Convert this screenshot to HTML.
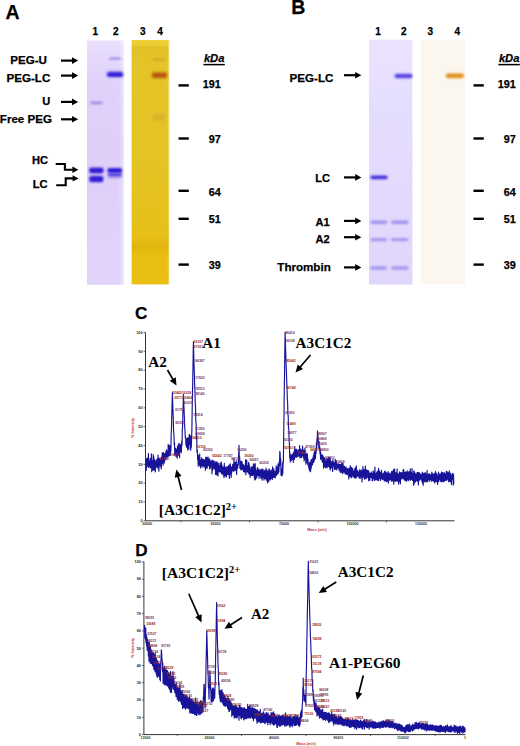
<!DOCTYPE html>
<html><head><meta charset="utf-8"><style>
html,body{margin:0;padding:0;background:#fff;width:520px;height:746px;overflow:hidden}
svg{display:block}
</style></head><body>
<svg width="520" height="746" viewBox="0 0 520 746">
<text x="5.5" y="19.3" style="font-family:'Liberation Sans',sans-serif;font-weight:bold;font-size:19.5px" fill="#000" text-anchor="start" stroke="#000" stroke-width="0.25">A</text>
<text x="95.2" y="34.6" style="font-family:'Liberation Sans',sans-serif;font-weight:bold;font-size:10px" fill="#000" text-anchor="middle" stroke="#000" stroke-width="0.25">1</text>
<text x="115.7" y="34.6" style="font-family:'Liberation Sans',sans-serif;font-weight:bold;font-size:10px" fill="#000" text-anchor="middle" stroke="#000" stroke-width="0.25">2</text>
<text x="142.8" y="34.6" style="font-family:'Liberation Sans',sans-serif;font-weight:bold;font-size:10px" fill="#000" text-anchor="middle" stroke="#000" stroke-width="0.25">3</text>
<text x="160" y="34.6" style="font-family:'Liberation Sans',sans-serif;font-weight:bold;font-size:10px" fill="#000" text-anchor="middle" stroke="#000" stroke-width="0.25">4</text>
<defs>
<linearGradient id="gA1" x1="0" y1="0" x2="0" y2="1">
 <stop offset="0" stop-color="#ebe0fc"/><stop offset="0.15" stop-color="#e0d2fb"/>
 <stop offset="0.45" stop-color="#dfcef8"/><stop offset="1" stop-color="#e1d4fb"/></linearGradient>
<linearGradient id="gA1h" x1="0" y1="0" x2="1" y2="0">
 <stop offset="0" stop-color="#fff" stop-opacity="0"/><stop offset="0.85" stop-color="#fff" stop-opacity="0"/>
 <stop offset="0.95" stop-color="#fff" stop-opacity="0.25"/><stop offset="1" stop-color="#fff" stop-opacity="0.4"/></linearGradient>
<linearGradient id="gA2" x1="0" y1="0" x2="0" y2="1">
 <stop offset="0" stop-color="#f0d038"/><stop offset="0.02" stop-color="#eccc34"/><stop offset="0.03" stop-color="#e2c026"/><stop offset="0.1" stop-color="#e4c428"/>
 <stop offset="0.5" stop-color="#e4c324"/><stop offset="0.8" stop-color="#e6c018"/><stop offset="0.845" stop-color="#e0b60e"/><stop offset="0.885" stop-color="#e8bf10"/><stop offset="1" stop-color="#e8bf12"/></linearGradient>
<linearGradient id="gA2h" x1="0" y1="0" x2="1" y2="0">
 <stop offset="0" stop-color="#fff" stop-opacity="0"/><stop offset="0.95" stop-color="#fff" stop-opacity="0"/>
 <stop offset="1" stop-color="#fff8c0" stop-opacity="0.5"/></linearGradient>
<linearGradient id="gB1" x1="0" y1="0" x2="0" y2="1">
 <stop offset="0" stop-color="#ebe3fe"/><stop offset="0.3" stop-color="#e5ddfe"/><stop offset="1" stop-color="#e0d6fc"/></linearGradient>
<filter id="bl1" x="-50%" y="-200%" width="200%" height="500%"><feGaussianBlur stdDeviation="0.8"/></filter>
<filter id="bl2" x="-50%" y="-200%" width="200%" height="500%"><feGaussianBlur stdDeviation="1.1"/></filter>
<filter id="bl3" x="-50%" y="-200%" width="200%" height="500%"><feGaussianBlur stdDeviation="1.6"/></filter>
</defs>
<rect x="87" y="40.4" width="36.8" height="244.4" fill="url(#gA1)"/>
<rect x="87" y="40.4" width="36.8" height="244.4" fill="url(#gA1h)"/>
<rect x="131.6" y="40" width="37.6" height="244.4" fill="url(#gA2)"/>
<rect x="131.6" y="40" width="37.6" height="244.4" fill="url(#gA2h)"/>
<rect x="108.8" y="57.4" width="12.400000000000006" height="2.4" rx="2" fill="#8c7cdc" opacity="0.85" filter="url(#bl1)"/>
<rect x="107.0" y="71.5" width="16.0" height="5.0" rx="2" fill="#6a5ae6" opacity="0.7" filter="url(#bl3)"/>
<rect x="107.4" y="72.39999999999999" width="15.399999999999991" height="4.4" rx="1.5" fill="#2e1cd6" opacity="1" filter="url(#bl1)"/>
<rect x="90.3" y="101.60000000000001" width="12.299999999999997" height="2.6" rx="2" fill="#9888e4" opacity="0.95" filter="url(#bl1)"/>
<rect x="89.5" y="167.3" width="13.700000000000003" height="6.0" rx="2" fill="#6a58e0" opacity="0.6" filter="url(#bl3)"/>
<rect x="89.5" y="167.9" width="13.700000000000003" height="5.0" rx="1.5" fill="#2e1cd4" opacity="1" filter="url(#bl1)"/>
<rect x="89.6" y="175.7" width="13.400000000000006" height="6.6" rx="2" fill="#6a58e0" opacity="0.6" filter="url(#bl3)"/>
<rect x="89.6" y="176.2" width="13.400000000000006" height="5.6" rx="1.5" fill="#2e1cd4" opacity="1" filter="url(#bl1)"/>
<rect x="107.6" y="168.1" width="14.400000000000006" height="5.0" rx="1.5" fill="#2e1cd4" opacity="1" filter="url(#bl1)"/>
<rect x="107.6" y="173.20000000000002" width="14.400000000000006" height="3.2" rx="2" fill="#3a28d8" opacity="0.9" filter="url(#bl1)"/>
<rect x="107.6" y="176.6" width="14.400000000000006" height="2.0" rx="2" fill="#8070e0" opacity="0.5" filter="url(#bl1)"/>
<rect x="152.5" y="58.4" width="13.0" height="2.0" rx="2" fill="#b88828" opacity="0.55" filter="url(#bl1)"/>
<rect x="151.8" y="71.8" width="15.199999999999989" height="7.0" rx="2" fill="#d89018" opacity="0.7" filter="url(#bl3)"/>
<rect x="152.2" y="72.8" width="14.600000000000023" height="5.0" rx="2" fill="#b45c0c" opacity="1" filter="url(#bl2)"/>
<rect x="153" y="113.8" width="12.400000000000006" height="7" rx="2" fill="#c89030" opacity="0.35" filter="url(#bl3)"/>
<text x="10.2" y="63.6" style="font-family:'Liberation Sans',sans-serif;font-weight:bold;font-size:11.6px" fill="#000" text-anchor="start" stroke="#000" stroke-width="0.25">PEG-U</text>
<text x="6.5" y="81.8" style="font-family:'Liberation Sans',sans-serif;font-weight:bold;font-size:11.6px" fill="#000" text-anchor="start" stroke="#000" stroke-width="0.25">PEG-LC</text>
<text x="42.2" y="105.2" style="font-family:'Liberation Sans',sans-serif;font-weight:bold;font-size:11.1px" fill="#000" text-anchor="start" stroke="#000" stroke-width="0.25">U</text>
<text x="-0.2" y="122.9" style="font-family:'Liberation Sans',sans-serif;font-weight:bold;font-size:11.6px" fill="#000" text-anchor="start" stroke="#000" stroke-width="0.25">Free PEG</text>
<text x="31.9" y="164.4" style="font-family:'Liberation Sans',sans-serif;font-weight:bold;font-size:11.1px" fill="#000" text-anchor="start" stroke="#000" stroke-width="0.25">HC</text>
<text x="32.7" y="188.3" style="font-family:'Liberation Sans',sans-serif;font-weight:bold;font-size:11.1px" fill="#000" text-anchor="start" stroke="#000" stroke-width="0.25">LC</text>
<line x1="61" y1="60.6" x2="72.5" y2="60.6" stroke="#000" stroke-width="2.2"/>
<polygon points="78.2,60.6 72.0,57.300000000000004 72.0,63.9" fill="#000"/>
<line x1="61" y1="75.6" x2="72.5" y2="75.6" stroke="#000" stroke-width="2.2"/>
<polygon points="78.2,75.6 72.0,72.3 72.0,78.89999999999999" fill="#000"/>
<line x1="61" y1="101.9" x2="72.5" y2="101.9" stroke="#000" stroke-width="2.2"/>
<polygon points="78.2,101.9 72.0,98.60000000000001 72.0,105.2" fill="#000"/>
<line x1="61" y1="119.3" x2="72.5" y2="119.3" stroke="#000" stroke-width="2.2"/>
<polygon points="78.2,119.3 72.0,116.0 72.0,122.6" fill="#000"/>
<polyline points="55.7,164 64.9,164 64.9,169.8 73,169.8" fill="none" stroke="#000" stroke-width="2.1"/>
<polygon points="78.4,169.8 72.4,166.6 72.4,173.0" fill="#000"/>
<polyline points="56.2,185.3 65.7,185.3 65.7,178.4 73,178.4" fill="none" stroke="#000" stroke-width="2.1"/>
<polygon points="78.6,178.4 72.6,175.2 72.6,181.6" fill="#000"/>
<text x="203.9" y="62.4" style="font-family:'Liberation Sans',sans-serif;font-weight:bold;font-style:italic;font-size:11.2px" fill="#000" stroke="#000" stroke-width="0.25">kDa</text>
<line x1="203.4" y1="64.6" x2="224.8" y2="64.6" stroke="#000" stroke-width="1.5"/>
<line x1="178.5" y1="85.4" x2="188.8" y2="85.4" stroke="#000" stroke-width="2.4"/>
<text x="220.7" y="88.2" style="font-family:'Liberation Sans',sans-serif;font-weight:bold;font-size:10.8px" fill="#000" text-anchor="end" stroke="#000" stroke-width="0.25">191</text>
<line x1="178.5" y1="138.5" x2="188.8" y2="138.5" stroke="#000" stroke-width="2.4"/>
<text x="220.7" y="143.1" style="font-family:'Liberation Sans',sans-serif;font-weight:bold;font-size:10.8px" fill="#000" text-anchor="end" stroke="#000" stroke-width="0.25">97</text>
<line x1="178.5" y1="190.8" x2="188.8" y2="190.8" stroke="#000" stroke-width="2.4"/>
<text x="220.7" y="195.7" style="font-family:'Liberation Sans',sans-serif;font-weight:bold;font-size:10.8px" fill="#000" text-anchor="end" stroke="#000" stroke-width="0.25">64</text>
<line x1="178.5" y1="218.8" x2="188.8" y2="218.8" stroke="#000" stroke-width="2.4"/>
<text x="220.7" y="223.4" style="font-family:'Liberation Sans',sans-serif;font-weight:bold;font-size:10.8px" fill="#000" text-anchor="end" stroke="#000" stroke-width="0.25">51</text>
<line x1="178.5" y1="264.6" x2="188.8" y2="264.6" stroke="#000" stroke-width="2.4"/>
<text x="220.7" y="269.0" style="font-family:'Liberation Sans',sans-serif;font-weight:bold;font-size:10.8px" fill="#000" text-anchor="end" stroke="#000" stroke-width="0.25">39</text>
<text x="291.3" y="13.8" style="font-family:'Liberation Sans',sans-serif;font-weight:bold;font-size:19.5px" fill="#000" text-anchor="start" stroke="#000" stroke-width="0.25">B</text>
<text x="378" y="34.7" style="font-family:'Liberation Sans',sans-serif;font-weight:bold;font-size:10px" fill="#000" text-anchor="middle" stroke="#000" stroke-width="0.25">1</text>
<text x="403.8" y="34.7" style="font-family:'Liberation Sans',sans-serif;font-weight:bold;font-size:10px" fill="#000" text-anchor="middle" stroke="#000" stroke-width="0.25">2</text>
<text x="430.4" y="34.7" style="font-family:'Liberation Sans',sans-serif;font-weight:bold;font-size:10px" fill="#000" text-anchor="middle" stroke="#000" stroke-width="0.25">3</text>
<text x="457.4" y="34.7" style="font-family:'Liberation Sans',sans-serif;font-weight:bold;font-size:10px" fill="#000" text-anchor="middle" stroke="#000" stroke-width="0.25">4</text>
<rect x="369" y="39.7" width="43.4" height="244.8" fill="url(#gB1)"/>
<rect x="420.5" y="39.7" width="44.5" height="244.8" fill="#fbf7ee"/>
<rect x="394.6" y="73.8" width="17.69999999999999" height="4.4" rx="2" fill="#7a6aea" opacity="0.6" filter="url(#bl3)"/>
<rect x="394.8" y="74.2" width="17.5" height="3.6" rx="2" fill="#5242e0" opacity="1" filter="url(#bl1)"/>
<rect x="446" y="73.3" width="17.80000000000001" height="5.0" rx="2" fill="#f0b040" opacity="0.6" filter="url(#bl3)"/>
<rect x="446" y="74.0" width="17.80000000000001" height="3.6" rx="2" fill="#e08a18" opacity="1" filter="url(#bl1)"/>
<rect x="370.4" y="175.6" width="17.30000000000001" height="3.6" rx="2" fill="#4232dc" opacity="1" filter="url(#bl1)"/>
<rect x="370.2" y="220.60000000000002" width="17.0" height="3.4" rx="2" fill="#7464e2" opacity="0.6" filter="url(#bl2)"/>
<rect x="391" y="220.60000000000002" width="17.5" height="3.4" rx="2" fill="#7464e2" opacity="0.6" filter="url(#bl2)"/>
<rect x="370.2" y="237.9" width="17.0" height="3.4" rx="2" fill="#7464e2" opacity="0.55" filter="url(#bl2)"/>
<rect x="391" y="237.9" width="17.5" height="3.4" rx="2" fill="#7464e2" opacity="0.55" filter="url(#bl2)"/>
<rect x="370.2" y="266.3" width="17.0" height="3.4" rx="2" fill="#7464e2" opacity="0.55" filter="url(#bl2)"/>
<rect x="391" y="266.3" width="17.5" height="3.4" rx="2" fill="#7464e2" opacity="0.55" filter="url(#bl2)"/>
<text x="289.6" y="82.0" style="font-family:'Liberation Sans',sans-serif;font-weight:bold;font-size:11.6px" fill="#000" text-anchor="start" stroke="#000" stroke-width="0.25">PEG-LC</text>
<text x="315.3" y="182.3" style="font-family:'Liberation Sans',sans-serif;font-weight:bold;font-size:11.1px" fill="#000" text-anchor="start" stroke="#000" stroke-width="0.25">LC</text>
<text x="315.6" y="225.8" style="font-family:'Liberation Sans',sans-serif;font-weight:bold;font-size:11.1px" fill="#000" text-anchor="start" stroke="#000" stroke-width="0.25">A1</text>
<text x="315.6" y="242.5" style="font-family:'Liberation Sans',sans-serif;font-weight:bold;font-size:11.1px" fill="#000" text-anchor="start" stroke="#000" stroke-width="0.25">A2</text>
<text x="277.3" y="271.0" style="font-family:'Liberation Sans',sans-serif;font-weight:bold;font-size:11.6px" fill="#000" text-anchor="start" stroke="#000" stroke-width="0.25">Thrombin</text>
<line x1="344" y1="75.2" x2="355.7" y2="75.2" stroke="#000" stroke-width="2.2"/>
<polygon points="361.4,75.2 355.2,71.9 355.2,78.5" fill="#000"/>
<line x1="344" y1="177.4" x2="355.7" y2="177.4" stroke="#000" stroke-width="2.2"/>
<polygon points="361.4,177.4 355.2,174.1 355.2,180.70000000000002" fill="#000"/>
<line x1="344" y1="220.9" x2="355.7" y2="220.9" stroke="#000" stroke-width="2.2"/>
<polygon points="361.4,220.9 355.2,217.6 355.2,224.20000000000002" fill="#000"/>
<line x1="344" y1="237.2" x2="355.7" y2="237.2" stroke="#000" stroke-width="2.2"/>
<polygon points="361.4,237.2 355.2,233.89999999999998 355.2,240.5" fill="#000"/>
<line x1="344" y1="267.4" x2="355.7" y2="267.4" stroke="#000" stroke-width="2.2"/>
<polygon points="361.4,267.4 355.2,264.09999999999997 355.2,270.7" fill="#000"/>
<text x="498.9" y="62.4" style="font-family:'Liberation Sans',sans-serif;font-weight:bold;font-style:italic;font-size:11.2px" fill="#000" stroke="#000" stroke-width="0.25">kDa</text>
<line x1="498.4" y1="64.6" x2="519.8" y2="64.6" stroke="#000" stroke-width="1.5"/>
<line x1="473.5" y1="85.4" x2="483.8" y2="85.4" stroke="#000" stroke-width="2.4"/>
<text x="515.7" y="88.2" style="font-family:'Liberation Sans',sans-serif;font-weight:bold;font-size:10.8px" fill="#000" text-anchor="end" stroke="#000" stroke-width="0.25">191</text>
<line x1="473.5" y1="138.5" x2="483.8" y2="138.5" stroke="#000" stroke-width="2.4"/>
<text x="515.7" y="143.1" style="font-family:'Liberation Sans',sans-serif;font-weight:bold;font-size:10.8px" fill="#000" text-anchor="end" stroke="#000" stroke-width="0.25">97</text>
<line x1="473.5" y1="190.8" x2="483.8" y2="190.8" stroke="#000" stroke-width="2.4"/>
<text x="515.7" y="195.7" style="font-family:'Liberation Sans',sans-serif;font-weight:bold;font-size:10.8px" fill="#000" text-anchor="end" stroke="#000" stroke-width="0.25">64</text>
<line x1="473.5" y1="218.8" x2="483.8" y2="218.8" stroke="#000" stroke-width="2.4"/>
<text x="515.7" y="223.4" style="font-family:'Liberation Sans',sans-serif;font-weight:bold;font-size:10.8px" fill="#000" text-anchor="end" stroke="#000" stroke-width="0.25">51</text>
<line x1="473.5" y1="264.6" x2="483.8" y2="264.6" stroke="#000" stroke-width="2.4"/>
<text x="515.7" y="269.0" style="font-family:'Liberation Sans',sans-serif;font-weight:bold;font-size:10.8px" fill="#000" text-anchor="end" stroke="#000" stroke-width="0.25">39</text>
<line x1="145.5" y1="332.5" x2="145.5" y2="520.8" stroke="#333" stroke-width="1"/>
<line x1="145.5" y1="520.8" x2="454.5" y2="520.8" stroke="#333" stroke-width="1"/>
<line x1="143.5" y1="520.80" x2="145.5" y2="520.80" stroke="#444" stroke-width="0.8"/>
<text x="142.5" y="522.10" style="font-family:'Liberation Sans',sans-serif;font-weight:bold;font-size:3.8px" fill="#222" text-anchor="end">0</text>
<line x1="143.5" y1="501.97" x2="145.5" y2="501.97" stroke="#444" stroke-width="0.8"/>
<text x="142.5" y="503.27" style="font-family:'Liberation Sans',sans-serif;font-weight:bold;font-size:3.8px" fill="#222" text-anchor="end">10</text>
<line x1="143.5" y1="483.14" x2="145.5" y2="483.14" stroke="#444" stroke-width="0.8"/>
<text x="142.5" y="484.44" style="font-family:'Liberation Sans',sans-serif;font-weight:bold;font-size:3.8px" fill="#222" text-anchor="end">20</text>
<line x1="143.5" y1="464.31" x2="145.5" y2="464.31" stroke="#444" stroke-width="0.8"/>
<text x="142.5" y="465.61" style="font-family:'Liberation Sans',sans-serif;font-weight:bold;font-size:3.8px" fill="#222" text-anchor="end">30</text>
<line x1="143.5" y1="445.48" x2="145.5" y2="445.48" stroke="#444" stroke-width="0.8"/>
<text x="142.5" y="446.78" style="font-family:'Liberation Sans',sans-serif;font-weight:bold;font-size:3.8px" fill="#222" text-anchor="end">40</text>
<line x1="143.5" y1="426.65" x2="145.5" y2="426.65" stroke="#444" stroke-width="0.8"/>
<text x="142.5" y="427.95" style="font-family:'Liberation Sans',sans-serif;font-weight:bold;font-size:3.8px" fill="#222" text-anchor="end">50</text>
<line x1="143.5" y1="407.82" x2="145.5" y2="407.82" stroke="#444" stroke-width="0.8"/>
<text x="142.5" y="409.12" style="font-family:'Liberation Sans',sans-serif;font-weight:bold;font-size:3.8px" fill="#222" text-anchor="end">60</text>
<line x1="143.5" y1="388.99" x2="145.5" y2="388.99" stroke="#444" stroke-width="0.8"/>
<text x="142.5" y="390.29" style="font-family:'Liberation Sans',sans-serif;font-weight:bold;font-size:3.8px" fill="#222" text-anchor="end">70</text>
<line x1="143.5" y1="370.16" x2="145.5" y2="370.16" stroke="#444" stroke-width="0.8"/>
<text x="142.5" y="371.46" style="font-family:'Liberation Sans',sans-serif;font-weight:bold;font-size:3.8px" fill="#222" text-anchor="end">80</text>
<line x1="143.5" y1="351.33" x2="145.5" y2="351.33" stroke="#444" stroke-width="0.8"/>
<text x="142.5" y="352.63" style="font-family:'Liberation Sans',sans-serif;font-weight:bold;font-size:3.8px" fill="#222" text-anchor="end">90</text>
<line x1="143.5" y1="332.50" x2="145.5" y2="332.50" stroke="#444" stroke-width="0.8"/>
<text x="142.5" y="333.80" style="font-family:'Liberation Sans',sans-serif;font-weight:bold;font-size:3.8px" fill="#222" text-anchor="end">100</text>
<line x1="181" y1="520.8" x2="181" y2="522.3" stroke="#333" stroke-width="0.8"/>
<line x1="249.5" y1="520.8" x2="249.5" y2="522.3" stroke="#333" stroke-width="0.8"/>
<line x1="318" y1="520.8" x2="318" y2="522.3" stroke="#333" stroke-width="0.8"/>
<line x1="386.5" y1="520.8" x2="386.5" y2="522.3" stroke="#333" stroke-width="0.8"/>
<text x="147" y="525" style="font-family:'Liberation Sans',sans-serif;font-weight:bold;font-size:3.6px" fill="#333" text-anchor="middle">30000</text>
<text x="215.5" y="525" style="font-family:'Liberation Sans',sans-serif;font-weight:bold;font-size:3.6px" fill="#333" text-anchor="middle">50000</text>
<text x="284" y="525" style="font-family:'Liberation Sans',sans-serif;font-weight:bold;font-size:3.6px" fill="#333" text-anchor="middle">70000</text>
<text x="352.5" y="525" style="font-family:'Liberation Sans',sans-serif;font-weight:bold;font-size:3.6px" fill="#333" text-anchor="middle">100000</text>
<text x="421" y="525" style="font-family:'Liberation Sans',sans-serif;font-weight:bold;font-size:3.6px" fill="#333" text-anchor="middle">130000</text>
<text x="317" y="530.8" style="font-family:'Liberation Sans',sans-serif;font-weight:bold;font-size:3.8px" fill="#c03030" text-anchor="middle">Mass (m/z)</text>
<text x="0" y="0" transform="translate(134,428) rotate(-90)" style="font-family:'Liberation Sans',sans-serif;font-weight:bold;font-size:3.8px" fill="#c03030" text-anchor="middle">% Intensity</text>
<polyline points="146.00,458.98 146.30,470.35 146.60,458.94 146.90,466.90 147.20,458.11 147.50,466.03 147.80,458.13 148.10,464.93 148.40,453.60 148.70,467.55 149.00,461.83 149.30,465.15 149.60,460.91 149.90,467.00 150.20,458.33 150.50,467.78 150.80,459.13 151.10,466.18 151.40,453.81 151.70,471.78 152.00,461.05 152.30,465.26 152.60,460.31 152.90,470.18 153.20,454.61 153.50,465.85 153.80,456.45 154.10,470.19 154.40,459.36 154.70,466.09 155.00,460.65 155.30,471.86 155.60,461.02 155.90,465.18 156.20,461.32 156.50,466.82 156.80,458.98 157.10,467.64 157.40,460.31 157.70,466.05 158.00,455.05 158.30,468.63 158.60,460.44 158.90,471.15 159.20,457.96 159.50,465.97 159.80,460.74 160.10,465.08 160.40,459.25 160.70,466.61 161.00,459.14 161.30,468.89 161.60,456.78 161.90,463.42 162.20,452.77 162.50,462.90 162.80,455.19 163.10,465.35 163.40,452.48 163.70,461.21 164.00,453.82 164.30,462.99 164.60,453.74 164.90,460.65 165.20,453.33 165.50,459.28 165.80,451.60 166.10,458.28 166.40,449.78 166.70,457.04 167.00,452.41 167.30,456.24 167.60,450.92 167.90,457.16 168.20,444.34 168.50,455.22 168.80,449.71 169.10,455.94 169.40,445.35 169.70,454.23 170.00,445.69 170.30,455.52 170.60,446.68 170.90,451.35 171.20,433.33 171.50,427.47 171.80,414.00 172.10,404.69 172.40,392.54 172.40,393.71 172.70,402.47 173.00,412.32 173.30,419.36 173.60,432.30 173.90,433.61 174.20,444.51 174.50,442.64 174.80,454.92 175.10,448.16 175.40,454.08 175.70,448.29 176.00,456.58 176.30,449.95 176.60,455.30 176.90,449.01 177.20,458.34 177.50,445.71 177.80,454.51 178.10,447.17 178.40,455.12 178.70,443.64 179.00,452.30 179.30,446.11 179.60,457.59 179.90,443.87 180.20,450.87 180.50,446.14 180.80,451.39 181.10,444.77 181.40,452.63 181.70,441.10 182.00,445.46 182.30,430.94 182.60,425.57 182.90,413.48 183.20,404.59 183.50,394.55 183.50,395.26 183.80,403.16 184.10,411.61 184.40,417.49 184.70,427.71 185.00,429.80 185.30,437.76 185.60,437.32 185.90,445.06 186.20,441.05 186.50,446.96 186.80,438.79 187.10,447.46 187.40,437.71 187.70,450.05 188.00,438.81 188.30,446.74 188.60,437.75 188.90,449.19 189.20,434.21 189.50,442.68 189.80,435.54 190.10,444.46 190.40,435.81 190.70,450.30 191.00,437.45 191.30,447.64 191.60,437.13 191.90,429.26 192.20,407.81 192.50,393.98 192.80,376.37 193.10,359.57 193.40,341.55 193.40,342.20 193.70,351.93 194.00,363.24 194.30,371.65 194.60,382.62 194.90,390.20 195.20,401.75 195.50,407.27 195.80,421.31 196.10,423.40 196.40,439.16 196.70,435.91 197.00,452.20 197.30,449.72 197.60,459.51 197.90,457.34 198.20,466.22 198.50,455.41 198.80,463.94 199.10,459.58 199.40,464.83 199.70,453.74 200.00,466.27 200.30,459.89 200.60,468.00 200.90,460.37 201.20,466.85 201.50,457.92 201.80,464.44 202.10,460.73 202.40,465.65 202.70,459.14 203.00,467.31 203.30,459.58 203.60,465.15 203.90,459.88 204.20,466.02 204.50,461.00 204.80,466.91 205.10,459.51 205.40,470.25 205.70,457.45 206.00,467.63 206.30,457.08 206.60,468.09 206.90,457.61 207.20,468.18 207.50,458.89 207.80,465.04 208.10,457.02 208.40,465.39 208.70,459.51 209.00,465.91 209.30,458.82 209.60,468.99 209.90,459.67 210.20,468.33 210.50,462.68 210.80,465.93 211.10,461.10 211.40,466.59 211.70,462.59 212.00,473.83 212.30,460.06 212.60,470.30 212.90,460.77 213.20,468.57 213.50,462.35 213.80,466.95 214.10,460.89 214.40,468.96 214.70,462.90 215.00,468.02 215.30,464.74 215.60,474.41 215.90,461.61 216.20,469.59 216.50,463.36 216.80,475.02 217.10,462.01 217.40,471.70 217.70,464.36 218.00,475.96 218.30,463.19 218.60,470.79 218.90,466.31 219.20,471.35 219.50,465.46 219.80,472.28 220.10,463.37 220.40,471.42 220.70,465.19 221.00,471.93 221.30,461.76 221.60,473.74 221.90,464.85 222.20,473.94 222.50,466.77 222.80,472.04 223.10,468.30 223.40,475.22 223.70,466.94 224.00,477.56 224.30,463.28 224.60,472.46 224.90,466.53 225.20,476.06 225.50,467.60 225.80,474.13 226.10,469.10 226.40,476.99 226.70,466.74 227.00,472.94 227.30,466.72 227.60,474.51 227.90,468.76 228.20,471.61 228.50,465.59 228.80,474.90 229.10,468.28 229.40,478.49 229.70,464.64 230.00,472.86 230.30,463.89 230.60,474.55 230.90,466.07 231.20,477.40 231.50,467.33 231.80,472.25 232.10,467.36 232.40,470.55 232.70,464.42 233.00,470.66 233.30,464.98 233.60,471.30 233.90,458.79 234.20,469.67 234.50,462.16 234.80,470.78 235.10,464.23 235.40,470.09 235.70,462.31 236.00,468.12 236.30,460.68 236.60,474.45 236.90,464.40 237.20,469.07 237.50,464.23 237.80,467.64 238.10,461.91 238.40,464.57 238.70,452.05 239.00,452.74 239.00,445.25 239.30,457.17 239.60,456.79 239.90,468.21 240.20,463.68 240.50,469.04 240.80,460.96 241.10,470.01 241.40,461.48 241.70,469.53 242.00,461.91 242.30,468.61 242.60,463.73 242.90,469.72 243.20,465.62 243.50,471.43 243.80,464.94 244.10,471.80 244.40,465.83 244.70,472.17 245.00,466.17 245.30,471.78 245.60,459.51 245.90,474.83 246.20,465.90 246.50,471.57 246.80,460.19 247.10,471.65 247.40,466.14 247.70,472.00 248.00,465.57 248.30,472.86 248.60,462.41 248.90,473.98 249.20,463.91 249.50,473.24 249.80,466.27 250.10,477.47 250.40,468.55 250.70,474.82 251.00,468.72 251.30,475.51 251.60,466.72 251.90,475.13 252.20,468.54 252.50,475.45 252.80,466.67 253.10,473.96 253.40,463.83 253.70,475.01 254.00,467.38 254.30,478.07 254.60,464.34 254.90,480.09 255.20,463.56 255.50,479.53 255.80,468.01 256.10,475.39 256.40,470.48 256.70,477.87 257.00,470.57 257.30,475.76 257.60,467.50 257.90,475.47 258.20,468.99 258.50,475.13 258.80,469.93 259.10,478.26 259.40,471.53 259.70,475.64 260.00,469.25 260.30,475.85 260.60,471.19 260.90,478.19 261.20,470.29 261.50,477.24 261.80,469.10 262.10,480.17 262.40,468.99 262.70,476.56 263.00,469.21 263.30,477.40 263.60,471.14 263.90,480.03 264.20,472.45 264.50,478.11 264.80,470.36 265.10,478.79 265.40,472.97 265.70,477.33 266.00,468.08 266.30,480.24 266.60,471.32 266.90,479.28 267.20,470.10 267.50,482.95 267.80,472.28 268.10,476.43 268.40,471.41 268.70,481.77 269.00,468.73 269.30,477.61 269.60,469.63 269.90,479.95 270.20,471.00 270.50,479.17 270.80,471.81 271.10,476.98 271.40,470.11 271.70,478.46 272.00,471.35 272.30,479.54 272.60,466.80 272.90,477.09 273.20,471.87 273.50,477.36 273.80,468.75 274.10,476.28 274.40,471.53 274.70,477.57 275.00,471.28 275.30,477.75 275.60,471.24 275.90,475.78 276.20,465.77 276.50,475.19 276.80,467.28 277.10,473.63 277.40,467.38 277.70,474.28 278.00,463.83 278.30,472.97 278.60,468.55 278.90,471.74 279.20,461.70 279.50,466.16 279.80,451.44 280.00,454.69 280.10,452.67 280.40,464.59 280.70,458.86 281.00,475.13 281.30,468.86 281.60,475.68 281.90,469.08 282.20,475.79 282.50,463.10 282.80,473.59 283.10,461.30 283.40,462.66 283.70,433.35 284.00,416.45 284.30,389.29 284.60,368.62 284.90,346.07 285.10,332.23 285.20,335.04 285.50,345.93 285.80,354.59 286.10,364.35 286.40,371.77 286.70,380.82 287.00,386.85 287.30,398.90 287.60,402.00 287.90,413.78 288.20,415.93 288.50,428.37 288.80,428.99 289.10,440.47 289.40,443.46 289.70,458.11 290.00,453.06 290.30,461.94 290.60,455.57 290.90,459.98 291.20,455.16 291.50,460.48 291.80,455.38 292.10,459.16 292.40,454.09 292.70,457.70 293.00,454.20 293.30,462.37 293.60,452.61 293.90,458.92 294.20,450.75 294.50,459.44 294.80,446.54 295.10,456.84 295.40,449.37 295.70,457.10 296.00,449.33 296.30,455.30 296.60,449.31 296.90,457.23 297.20,451.44 297.50,455.22 297.80,450.87 298.10,456.35 298.40,449.92 298.70,455.71 299.00,450.96 299.30,455.02 299.60,445.65 299.90,457.83 300.20,449.38 300.50,457.34 300.80,448.96 301.10,457.45 301.40,450.22 301.70,457.34 302.00,451.02 302.30,454.70 302.60,445.95 302.90,455.70 303.20,451.81 303.50,457.60 303.80,450.11 304.10,461.04 304.40,451.11 304.70,457.58 305.00,448.19 305.30,459.50 305.60,453.27 305.90,464.19 306.20,453.70 306.50,462.65 306.80,457.70 307.10,462.70 307.40,453.85 307.70,464.15 308.00,458.88 308.30,466.05 308.60,463.27 308.90,468.58 309.20,464.60 309.50,470.26 309.80,462.04 310.10,471.61 310.40,462.35 310.70,470.92 311.00,460.11 311.30,467.97 311.60,459.52 311.90,463.55 312.20,459.28 312.50,464.99 312.80,457.87 313.10,461.55 313.40,455.51 313.70,462.54 314.00,453.13 314.30,460.61 314.60,451.31 314.90,457.12 315.20,451.41 315.50,458.64 315.80,448.88 316.10,453.33 316.40,442.86 316.70,447.79 317.00,438.17 317.30,439.09 317.50,430.93 317.60,439.88 317.90,434.89 318.20,443.40 318.50,440.73 318.80,447.92 319.10,441.51 319.40,449.56 319.70,446.42 320.00,453.94 320.30,448.77 320.60,459.29 320.90,452.99 321.20,459.03 321.50,455.02 321.80,460.28 322.10,455.18 322.40,462.25 322.70,455.05 323.00,461.98 323.30,456.49 323.60,468.12 323.90,458.48 324.20,463.76 324.50,457.90 324.80,466.74 325.10,458.30 325.40,467.09 325.70,461.01 326.00,467.91 326.30,460.91 326.60,464.84 326.90,458.43 327.20,467.41 327.50,461.32 327.80,465.70 328.10,458.90 328.40,466.18 328.70,457.07 329.00,466.55 329.30,462.40 329.60,467.76 329.90,457.38 330.20,470.11 330.50,459.70 330.80,468.33 331.10,461.67 331.40,467.58 331.70,462.33 332.00,467.40 332.30,461.54 332.60,471.51 332.90,459.56 333.20,466.16 333.50,462.09 333.80,466.08 334.10,462.58 334.40,469.60 334.70,462.68 335.00,466.83 335.30,459.44 335.60,469.21 335.90,461.10 336.20,468.18 336.50,461.02 336.80,469.88 337.10,464.38 337.40,468.11 337.70,464.25 338.00,467.58 338.30,463.46 338.60,468.21 338.90,464.32 339.20,470.45 339.50,464.77 339.80,470.87 340.10,464.34 340.40,472.39 340.70,464.85 341.00,469.02 341.30,464.13 341.60,472.29 341.90,462.68 342.20,473.07 342.50,464.62 342.80,473.57 343.10,463.66 343.40,470.65 343.70,466.46 344.00,472.12 344.30,466.42 344.60,471.63 344.90,466.87 345.20,473.92 345.50,468.68 345.80,473.36 346.10,467.17 346.40,474.22 346.70,469.66 347.00,473.86 347.30,468.57 347.60,474.72 347.90,468.68 348.20,474.16 348.50,469.50 348.80,478.92 349.10,468.63 349.40,475.71 349.70,467.90 350.00,476.48 350.30,465.50 350.60,476.71 350.90,470.23 351.20,477.57 351.50,467.28 351.80,477.59 352.10,470.00 352.40,475.89 352.70,468.38 353.00,475.45 353.30,471.16 353.60,476.72 353.90,471.20 354.20,477.18 354.50,469.79 354.80,477.93 355.10,467.84 355.40,478.21 355.70,469.56 356.00,477.50 356.30,465.88 356.60,477.31 356.90,470.26 357.20,476.09 357.50,470.43 357.80,476.01 358.10,471.85 358.40,475.60 358.70,472.33 359.00,477.87 359.30,470.93 359.60,477.07 359.90,469.40 360.20,478.50 360.50,470.83 360.80,476.86 361.10,471.87 361.40,476.67 361.70,469.99 362.00,481.97 362.30,471.35 362.60,477.92 362.90,466.63 363.20,477.04 363.50,472.19 363.80,475.71 364.10,469.54 364.40,479.26 364.70,471.59 365.00,477.29 365.30,466.08 365.60,478.56 365.90,473.15 366.20,478.69 366.50,469.89 366.80,476.06 367.10,471.59 367.40,477.20 367.70,470.29 368.00,477.57 368.30,470.63 368.60,480.76 368.90,471.53 369.20,476.76 369.50,473.27 369.80,480.30 370.10,473.27 370.40,476.39 370.70,473.25 371.00,477.42 371.30,472.01 371.60,477.43 371.90,473.67 372.20,480.78 372.50,473.28 372.80,480.37 373.10,470.72 373.40,478.20 373.70,472.58 374.00,478.78 374.30,471.77 374.60,480.33 374.90,467.01 375.20,479.98 375.50,473.60 375.80,477.50 376.10,474.05 376.40,479.80 376.70,472.43 377.00,477.78 377.30,471.43 377.60,480.13 377.90,471.70 378.20,480.17 378.50,468.34 378.80,480.56 379.10,469.95 379.40,478.17 379.70,471.62 380.00,478.14 380.30,473.32 380.60,480.39 380.90,472.31 381.20,478.37 381.50,470.42 381.80,478.60 382.10,473.97 382.40,479.42 382.70,474.11 383.00,477.90 383.30,473.16 383.60,479.29 383.90,473.59 384.20,481.02 384.50,471.47 384.80,480.28 385.10,471.08 385.40,481.09 385.70,473.31 386.00,478.11 386.30,472.29 386.60,481.78 386.90,473.53 387.20,481.06 387.50,473.47 387.80,478.28 388.10,471.53 388.40,483.13 388.70,472.77 389.00,480.70 389.30,473.22 389.60,479.12 389.90,474.09 390.20,479.72 390.50,474.86 390.80,479.25 391.10,472.73 391.40,481.18 391.70,471.22 392.00,478.77 392.30,471.25 392.60,480.91 392.90,471.26 393.20,478.50 393.50,469.33 393.80,484.12 394.10,473.12 394.40,480.89 394.70,469.09 395.00,480.74 395.30,473.06 395.60,481.47 395.90,472.66 396.20,479.80 396.50,473.26 396.80,480.75 397.10,468.90 397.40,481.17 397.70,474.59 398.00,478.11 398.30,473.86 398.60,484.26 398.90,474.50 399.20,481.00 399.50,471.76 399.80,481.55 400.10,472.82 400.40,483.85 400.70,472.69 401.00,477.86 401.30,474.05 401.60,478.88 401.90,472.61 402.20,478.32 402.50,473.50 402.80,478.29 403.10,469.73 403.40,478.61 403.70,469.40 404.00,479.25 404.30,473.77 404.60,480.30 404.90,472.21 405.20,479.65 405.50,471.76 405.80,480.61 406.10,473.16 406.40,481.27 406.70,472.12 407.00,479.69 407.30,470.79 407.60,480.26 407.90,475.18 408.20,479.06 408.50,471.79 408.80,480.65 409.10,474.52 409.40,478.52 409.70,471.42 410.00,479.33 410.30,468.89 410.60,480.13 410.90,472.07 411.20,479.45 411.50,472.75 411.80,479.39 412.10,468.52 412.40,480.51 412.70,474.16 413.00,479.31 413.30,473.24 413.60,485.24 413.90,470.92 414.20,483.87 414.50,471.77 414.80,479.91 415.10,473.09 415.40,481.95 415.70,474.20 416.00,479.68 416.30,475.31 416.60,480.67 416.90,472.81 417.20,481.31 417.50,472.69 417.80,480.01 418.10,472.39 418.40,485.02 418.70,474.35 419.00,480.29 419.30,472.69 419.60,480.21 419.90,473.55 420.20,478.61 420.50,474.60 420.80,479.22 421.10,475.52 421.40,480.00 421.70,473.97 422.00,481.69 422.30,472.09 422.60,483.48 422.90,473.38 423.20,485.35 423.50,475.68 423.80,481.41 424.10,473.00 424.40,480.31 424.70,475.30 425.00,481.97 425.30,472.48 425.60,479.87 425.90,474.73 426.20,481.79 426.50,473.85 426.80,481.67 427.10,470.34 427.40,481.73 427.70,474.58 428.00,479.26 428.30,474.08 428.60,479.65 428.90,474.00 429.20,481.47 429.50,473.71 429.80,479.80 430.10,475.35 430.40,479.48 430.70,474.84 431.00,480.14 431.30,474.17 431.60,481.28 431.90,472.05 432.20,480.56 432.50,474.57 432.80,480.53 433.10,473.82 433.40,481.16 433.70,475.37 434.00,479.31 434.30,474.10 434.60,482.96 434.90,473.12 435.20,482.04 435.50,471.36 435.80,481.41 436.10,473.27 436.40,481.20 436.70,473.34 437.00,481.82 437.30,475.64 437.60,484.45 437.90,475.70 438.20,479.88 438.50,471.96 438.80,481.57 439.10,474.04 439.40,479.72 439.70,474.05 440.00,479.50 440.30,475.45 440.60,481.47 440.90,473.63 441.20,478.73 441.50,472.08 441.80,481.80 442.10,474.14 442.40,481.49 442.70,472.38 443.00,478.40 443.30,474.28 443.60,481.83 443.90,473.09 444.20,481.25 444.50,472.89 444.80,480.52 445.10,474.40 445.40,479.61 445.70,473.74 446.00,480.47 446.30,471.23 446.60,480.11 446.90,471.36 447.20,479.17 447.50,472.93 447.80,479.26 448.10,472.57 448.40,481.02 448.70,473.36 449.00,482.01 449.30,470.81 449.60,479.16 449.90,475.33 450.20,481.52 450.50,473.05 450.80,480.38 451.10,475.15 451.40,484.50 451.70,475.35 452.00,479.11 452.30,473.68 452.60,478.74 452.90,473.50 453.20,485.18 453.50,474.33 453.80,484.30" fill="none" stroke="#18149a" stroke-width="1.15" stroke-linejoin="round"/>
<text x="135" y="318.8" style="font-family:'Liberation Sans',sans-serif;font-weight:bold;font-size:17.2px" fill="#000" text-anchor="start" stroke="#000" stroke-width="0.25">C</text>
<text x="148.3" y="367.0" style="font-family:'Liberation Serif',serif;font-weight:bold;font-size:15.2px" fill="#000" text-anchor="start" >A2</text>
<text x="202.3" y="348.2" style="font-family:'Liberation Serif',serif;font-weight:bold;font-size:15px" fill="#000" text-anchor="start" >A1</text>
<text x="295.6" y="348.2" style="font-family:'Liberation Serif',serif;font-weight:bold;font-size:15.2px" fill="#000" text-anchor="start" >A3C1C2</text>
<text x="158.8" y="515.4" style="font-family:'Liberation Serif',serif;font-weight:bold;font-size:15.5px" fill="#000" text-anchor="start" >[A3C1C2]</text>
<text x="225.8" y="509.6" style="font-family:'Liberation Serif',serif;font-weight:bold;font-size:10.4px" fill="#000" text-anchor="start" >2+</text>
<line x1="167.5" y1="370" x2="173.24" y2="379.88" stroke="#000" stroke-width="1.7"/>
<polygon points="176.5,385.5 169.71,380.77 175.76,377.26" fill="#000"/>
<line x1="310.5" y1="355" x2="299.73" y2="367.56" stroke="#000" stroke-width="1.7"/>
<polygon points="295.5,372.5 297.72,364.53 303.04,369.08" fill="#000"/>
<line x1="181.5" y1="490" x2="177.90" y2="475.80" stroke="#000" stroke-width="1.7"/>
<polygon points="176.3,469.5 181.54,475.91 174.75,477.63" fill="#000"/>
<text x="172.2" y="393.5" style="font-family:'Liberation Sans',sans-serif;font-weight:bold;font-size:3.4px" fill="#8a2c34">52445</text>
<text x="174.2" y="398.5" style="font-family:'Liberation Sans',sans-serif;font-weight:bold;font-size:3.4px" fill="#8a2c34">29772</text>
<text x="175.2" y="410.5" style="font-family:'Liberation Sans',sans-serif;font-weight:bold;font-size:3.4px" fill="#8a2c34">61750</text>
<text x="175.2" y="423.5" style="font-family:'Liberation Sans',sans-serif;font-weight:bold;font-size:3.4px" fill="#8a2c34">95319</text>
<text x="181.7" y="393.5" style="font-family:'Liberation Sans',sans-serif;font-weight:bold;font-size:3.4px" fill="#8a2c34">16328</text>
<text x="182.7" y="398.5" style="font-family:'Liberation Sans',sans-serif;font-weight:bold;font-size:3.4px" fill="#8a2c34">19494</text>
<text x="183.2" y="403.5" style="font-family:'Liberation Sans',sans-serif;font-weight:bold;font-size:3.4px" fill="#8a2c34">80239</text>
<text x="193.7" y="342.5" style="font-family:'Liberation Sans',sans-serif;font-weight:bold;font-size:3.4px" fill="#8a2c34">22337</text>
<text x="193.7" y="347.5" style="font-family:'Liberation Sans',sans-serif;font-weight:bold;font-size:3.4px" fill="#8a2c34">57931</text>
<text x="195.2" y="361.5" style="font-family:'Liberation Sans',sans-serif;font-weight:bold;font-size:3.4px" fill="#8a2c34">86387</text>
<text x="195.2" y="378.5" style="font-family:'Liberation Sans',sans-serif;font-weight:bold;font-size:3.4px" fill="#8a2c34">17602</text>
<text x="195.2" y="389.5" style="font-family:'Liberation Sans',sans-serif;font-weight:bold;font-size:3.4px" fill="#8a2c34">76510</text>
<text x="195.2" y="394.5" style="font-family:'Liberation Sans',sans-serif;font-weight:bold;font-size:3.4px" fill="#8a2c34">38140</text>
<text x="193.2" y="415.5" style="font-family:'Liberation Sans',sans-serif;font-weight:bold;font-size:3.4px" fill="#8a2c34">14914</text>
<text x="195.2" y="429.5" style="font-family:'Liberation Sans',sans-serif;font-weight:bold;font-size:3.4px" fill="#8a2c34">21265</text>
<text x="195.2" y="434.5" style="font-family:'Liberation Sans',sans-serif;font-weight:bold;font-size:3.4px" fill="#8a2c34">66838</text>
<text x="192.2" y="438.5" style="font-family:'Liberation Sans',sans-serif;font-weight:bold;font-size:3.4px" fill="#8a2c34">64810</text>
<text x="196.2" y="447.5" style="font-family:'Liberation Sans',sans-serif;font-weight:bold;font-size:3.4px" fill="#8a2c34">19156</text>
<text x="159.2" y="459.5" style="font-family:'Liberation Sans',sans-serif;font-weight:bold;font-size:3.4px" fill="#8a2c34">41544</text>
<text x="169.2" y="455.5" style="font-family:'Liberation Sans',sans-serif;font-weight:bold;font-size:3.4px" fill="#8a2c34">21889</text>
<text x="203.2" y="450.5" style="font-family:'Liberation Sans',sans-serif;font-weight:bold;font-size:3.4px" fill="#8a2c34">82226</text>
<text x="212.2" y="456.5" style="font-family:'Liberation Sans',sans-serif;font-weight:bold;font-size:3.4px" fill="#8a2c34">65642</text>
<text x="223.2" y="456.5" style="font-family:'Liberation Sans',sans-serif;font-weight:bold;font-size:3.4px" fill="#8a2c34">17747</text>
<text x="231.2" y="459.5" style="font-family:'Liberation Sans',sans-serif;font-weight:bold;font-size:3.4px" fill="#8a2c34">84115</text>
<text x="237.2" y="450.5" style="font-family:'Liberation Sans',sans-serif;font-weight:bold;font-size:3.4px" fill="#8a2c34">26226</text>
<text x="244.2" y="456.5" style="font-family:'Liberation Sans',sans-serif;font-weight:bold;font-size:3.4px" fill="#8a2c34">39260</text>
<text x="249.2" y="460.5" style="font-family:'Liberation Sans',sans-serif;font-weight:bold;font-size:3.4px" fill="#8a2c34">92657</text>
<text x="259.2" y="463.5" style="font-family:'Liberation Sans',sans-serif;font-weight:bold;font-size:3.4px" fill="#8a2c34">92238</text>
<text x="285.2" y="333.5" style="font-family:'Liberation Sans',sans-serif;font-weight:bold;font-size:3.4px" fill="#8a2c34">86414</text>
<text x="285.2" y="341.5" style="font-family:'Liberation Sans',sans-serif;font-weight:bold;font-size:3.4px" fill="#8a2c34">18108</text>
<text x="286.2" y="361.5" style="font-family:'Liberation Sans',sans-serif;font-weight:bold;font-size:3.4px" fill="#8a2c34">85642</text>
<text x="286.2" y="388.5" style="font-family:'Liberation Sans',sans-serif;font-weight:bold;font-size:3.4px" fill="#8a2c34">86748</text>
<text x="285.2" y="413.5" style="font-family:'Liberation Sans',sans-serif;font-weight:bold;font-size:3.4px" fill="#8a2c34">61993</text>
<text x="286.2" y="424.5" style="font-family:'Liberation Sans',sans-serif;font-weight:bold;font-size:3.4px" fill="#8a2c34">16499</text>
<text x="287.2" y="433.5" style="font-family:'Liberation Sans',sans-serif;font-weight:bold;font-size:3.4px" fill="#8a2c34">38977</text>
<text x="283.2" y="440.5" style="font-family:'Liberation Sans',sans-serif;font-weight:bold;font-size:3.4px" fill="#8a2c34">16105</text>
<text x="284.2" y="448.5" style="font-family:'Liberation Sans',sans-serif;font-weight:bold;font-size:3.4px" fill="#8a2c34">82963</text>
<text x="297.2" y="453.5" style="font-family:'Liberation Sans',sans-serif;font-weight:bold;font-size:3.4px" fill="#8a2c34">27455</text>
<text x="305.2" y="447.5" style="font-family:'Liberation Sans',sans-serif;font-weight:bold;font-size:3.4px" fill="#8a2c34">47959</text>
<text x="310.2" y="450.5" style="font-family:'Liberation Sans',sans-serif;font-weight:bold;font-size:3.4px" fill="#8a2c34">64937</text>
<text x="317.2" y="434.5" style="font-family:'Liberation Sans',sans-serif;font-weight:bold;font-size:3.4px" fill="#8a2c34">28907</text>
<text x="317.2" y="439.5" style="font-family:'Liberation Sans',sans-serif;font-weight:bold;font-size:3.4px" fill="#8a2c34">80868</text>
<text x="317.2" y="444.5" style="font-family:'Liberation Sans',sans-serif;font-weight:bold;font-size:3.4px" fill="#8a2c34">25439</text>
<text x="319.2" y="450.5" style="font-family:'Liberation Sans',sans-serif;font-weight:bold;font-size:3.4px" fill="#8a2c34">84830</text>
<text x="325.2" y="458.5" style="font-family:'Liberation Sans',sans-serif;font-weight:bold;font-size:3.4px" fill="#8a2c34">50433</text>
<text x="335.2" y="462.5" style="font-family:'Liberation Sans',sans-serif;font-weight:bold;font-size:3.4px" fill="#8a2c34">83434</text>
<line x1="143.9" y1="561.8" x2="143.9" y2="734.6" stroke="#333" stroke-width="1"/>
<line x1="143.9" y1="734.6" x2="465.6" y2="734.6" stroke="#333" stroke-width="1"/>
<line x1="141.9" y1="734.60" x2="143.9" y2="734.60" stroke="#444" stroke-width="0.8"/>
<text x="140.9" y="735.90" style="font-family:'Liberation Sans',sans-serif;font-weight:bold;font-size:3.8px" fill="#222" text-anchor="end">0</text>
<line x1="141.9" y1="717.32" x2="143.9" y2="717.32" stroke="#444" stroke-width="0.8"/>
<text x="140.9" y="718.62" style="font-family:'Liberation Sans',sans-serif;font-weight:bold;font-size:3.8px" fill="#222" text-anchor="end">10</text>
<line x1="141.9" y1="700.04" x2="143.9" y2="700.04" stroke="#444" stroke-width="0.8"/>
<text x="140.9" y="701.34" style="font-family:'Liberation Sans',sans-serif;font-weight:bold;font-size:3.8px" fill="#222" text-anchor="end">20</text>
<line x1="141.9" y1="682.76" x2="143.9" y2="682.76" stroke="#444" stroke-width="0.8"/>
<text x="140.9" y="684.06" style="font-family:'Liberation Sans',sans-serif;font-weight:bold;font-size:3.8px" fill="#222" text-anchor="end">30</text>
<line x1="141.9" y1="665.48" x2="143.9" y2="665.48" stroke="#444" stroke-width="0.8"/>
<text x="140.9" y="666.78" style="font-family:'Liberation Sans',sans-serif;font-weight:bold;font-size:3.8px" fill="#222" text-anchor="end">40</text>
<line x1="141.9" y1="648.20" x2="143.9" y2="648.20" stroke="#444" stroke-width="0.8"/>
<text x="140.9" y="649.50" style="font-family:'Liberation Sans',sans-serif;font-weight:bold;font-size:3.8px" fill="#222" text-anchor="end">50</text>
<line x1="141.9" y1="630.92" x2="143.9" y2="630.92" stroke="#444" stroke-width="0.8"/>
<text x="140.9" y="632.22" style="font-family:'Liberation Sans',sans-serif;font-weight:bold;font-size:3.8px" fill="#222" text-anchor="end">60</text>
<line x1="141.9" y1="613.64" x2="143.9" y2="613.64" stroke="#444" stroke-width="0.8"/>
<text x="140.9" y="614.94" style="font-family:'Liberation Sans',sans-serif;font-weight:bold;font-size:3.8px" fill="#222" text-anchor="end">70</text>
<line x1="141.9" y1="596.36" x2="143.9" y2="596.36" stroke="#444" stroke-width="0.8"/>
<text x="140.9" y="597.66" style="font-family:'Liberation Sans',sans-serif;font-weight:bold;font-size:3.8px" fill="#222" text-anchor="end">80</text>
<line x1="141.9" y1="579.08" x2="143.9" y2="579.08" stroke="#444" stroke-width="0.8"/>
<text x="140.9" y="580.38" style="font-family:'Liberation Sans',sans-serif;font-weight:bold;font-size:3.8px" fill="#222" text-anchor="end">90</text>
<line x1="141.9" y1="561.80" x2="143.9" y2="561.80" stroke="#444" stroke-width="0.8"/>
<text x="140.9" y="563.10" style="font-family:'Liberation Sans',sans-serif;font-weight:bold;font-size:3.8px" fill="#222" text-anchor="end">100</text>
<line x1="177.3" y1="734.6" x2="177.3" y2="736.1" stroke="#444" stroke-width="0.8"/>
<line x1="241.5" y1="734.6" x2="241.5" y2="736.1" stroke="#444" stroke-width="0.8"/>
<line x1="306" y1="734.6" x2="306" y2="736.1" stroke="#444" stroke-width="0.8"/>
<line x1="370.5" y1="734.6" x2="370.5" y2="736.1" stroke="#444" stroke-width="0.8"/>
<line x1="435" y1="734.6" x2="435" y2="736.1" stroke="#444" stroke-width="0.8"/>
<text x="145.5" y="739" style="font-family:'Liberation Sans',sans-serif;font-weight:bold;font-size:3.6px" fill="#333" text-anchor="middle">13000</text>
<text x="209.5" y="739" style="font-family:'Liberation Sans',sans-serif;font-weight:bold;font-size:3.6px" fill="#333" text-anchor="middle">26000</text>
<text x="274" y="739" style="font-family:'Liberation Sans',sans-serif;font-weight:bold;font-size:3.6px" fill="#333" text-anchor="middle">40000</text>
<text x="338.5" y="739" style="font-family:'Liberation Sans',sans-serif;font-weight:bold;font-size:3.6px" fill="#333" text-anchor="middle">80001</text>
<text x="402.8" y="739" style="font-family:'Liberation Sans',sans-serif;font-weight:bold;font-size:3.6px" fill="#333" text-anchor="middle">110002</text>
<text x="465" y="739" style="font-family:'Liberation Sans',sans-serif;font-weight:bold;font-size:3.6px" fill="#333" text-anchor="middle">1</text>
<text x="306" y="744.5" style="font-family:'Liberation Sans',sans-serif;font-weight:bold;font-size:3.8px" fill="#c03030" text-anchor="middle">Mass (m/z)</text>
<text x="0" y="0" transform="translate(133.5,648) rotate(-90)" style="font-family:'Liberation Sans',sans-serif;font-weight:bold;font-size:3.8px" fill="#c03030" text-anchor="middle">% Intensity</text>
<polyline points="144.50,624.93 144.80,637.84 145.10,627.22 145.40,639.33 145.70,628.31 146.00,642.74 146.30,634.50 146.60,645.74 146.90,636.96 147.20,650.43 147.50,639.58 147.80,649.40 148.10,642.12 148.40,655.91 148.70,644.04 149.00,661.23 149.30,642.41 149.60,659.66 149.90,644.92 150.20,663.22 150.50,647.21 150.80,660.10 151.10,652.25 151.40,663.66 151.70,650.14 152.00,663.27 152.30,652.40 152.60,665.40 152.90,655.89 153.20,666.54 153.50,652.84 153.80,669.45 154.10,655.48 154.40,666.65 154.70,654.64 155.00,671.68 155.30,652.95 155.60,670.72 155.90,658.01 156.20,674.04 156.50,658.76 156.80,676.31 157.10,662.76 157.40,677.36 157.70,660.81 158.00,675.29 158.30,666.19 158.60,675.90 158.90,663.27 159.20,676.86 159.50,664.55 159.80,679.38 160.10,666.96 160.40,680.95 160.70,662.23 161.00,660.67 161.30,650.95 161.40,649.87 161.60,651.96 161.90,658.78 162.20,660.12 162.50,671.35 162.80,662.92 163.10,683.34 163.40,668.25 163.70,680.83 164.00,671.48 164.30,684.64 164.60,666.35 164.90,681.30 165.20,671.28 165.50,684.69 165.80,669.31 166.10,684.48 166.40,670.18 166.70,685.24 167.00,672.36 167.30,685.87 167.60,670.69 167.90,685.99 168.20,673.51 168.50,687.17 168.80,672.84 169.10,688.53 169.40,674.48 169.70,689.39 170.00,674.19 170.30,692.12 170.60,671.62 170.90,689.43 171.20,675.94 171.50,692.54 171.80,677.40 172.10,688.65 172.40,676.43 172.70,686.60 173.00,671.64 173.00,686.08 173.30,676.42 173.60,689.15 173.90,677.56 174.20,690.21 174.50,683.77 174.80,692.77 175.10,684.83 175.40,693.03 175.70,684.56 176.00,696.53 176.30,682.66 176.60,696.31 176.90,685.88 177.20,699.15 177.50,688.48 177.80,696.17 178.10,687.70 178.40,701.18 178.70,688.03 179.00,700.31 179.30,690.14 179.60,700.62 179.90,684.05 180.20,700.27 180.50,690.11 180.80,702.04 181.10,692.34 181.40,704.34 181.70,691.65 182.00,702.10 182.30,690.25 182.60,708.52 182.90,693.95 183.20,706.95 183.50,694.40 183.80,707.62 184.10,694.36 184.40,706.53 184.70,695.99 185.00,708.22 185.30,695.45 185.60,709.21 185.90,697.33 186.20,705.91 186.50,695.30 186.80,707.91 187.10,696.59 187.40,706.67 187.70,698.54 188.00,708.18 188.30,697.94 188.60,708.77 188.90,698.15 189.20,708.72 189.50,697.10 189.80,712.96 190.10,698.24 190.40,711.10 190.70,699.30 191.00,713.02 191.30,700.81 191.60,712.19 191.90,699.13 192.20,713.35 192.50,701.37 192.80,713.43 193.10,700.95 193.40,712.69 193.70,702.59 194.00,713.21 194.30,704.18 194.60,714.63 194.90,701.80 195.20,714.40 195.50,697.78 195.80,711.29 196.10,701.78 196.40,715.42 196.70,704.33 197.00,715.24 197.30,702.17 197.60,711.77 197.90,704.77 198.20,712.75 198.50,704.72 198.80,714.38 199.10,702.30 199.40,712.43 199.70,702.79 200.00,714.87 200.30,701.67 200.60,713.43 200.90,700.32 201.20,712.97 201.50,701.54 201.80,713.14 202.10,703.02 202.40,711.03 202.70,702.43 203.00,711.89 203.30,696.85 203.60,698.92 203.90,684.67 204.00,693.90 204.20,684.06 204.50,702.08 204.80,696.98 205.10,708.23 205.40,692.08 205.70,686.47 206.00,665.23 206.30,653.84 206.60,639.08 206.80,630.75 206.90,633.94 207.20,646.64 207.50,655.87 207.80,669.43 208.10,672.92 208.40,687.23 208.70,688.14 209.00,698.87 209.30,683.83 209.60,687.11 209.90,670.80 210.00,680.16 210.20,676.35 210.50,689.54 210.80,687.48 211.10,701.45 211.40,691.51 211.70,699.42 212.00,690.04 212.30,701.87 212.60,688.08 212.90,700.77 213.20,688.06 213.50,700.74 213.80,689.24 214.10,698.52 214.40,691.88 214.70,697.91 215.00,687.59 215.30,680.45 215.60,658.10 215.90,644.34 216.20,625.39 216.50,609.37 216.60,602.53 216.80,613.04 217.10,625.58 217.40,639.48 217.70,648.16 218.00,663.69 218.30,668.97 218.60,684.94 218.90,681.81 219.20,694.49 219.50,690.61 219.80,698.58 220.10,691.45 220.40,701.74 220.70,690.34 221.00,700.68 221.30,691.97 221.60,701.51 221.90,689.46 222.20,702.85 222.50,692.54 222.80,703.05 223.10,692.87 223.40,705.13 223.70,694.29 224.00,704.88 224.30,695.54 224.60,705.87 224.90,696.22 225.20,703.69 225.50,697.85 225.80,706.39 226.10,698.62 226.40,704.88 226.70,698.38 227.00,705.76 227.30,698.95 227.60,708.30 227.90,696.14 228.20,709.04 228.50,698.27 228.80,711.25 229.10,699.43 229.40,711.33 229.70,702.43 230.00,709.39 230.30,700.87 230.60,709.55 230.90,701.96 231.20,710.09 231.50,703.38 231.80,716.51 232.10,704.49 232.40,712.53 232.70,705.98 233.00,714.98 233.30,706.25 233.60,712.95 233.90,705.46 234.20,718.15 234.50,706.58 234.80,717.26 235.10,706.63 235.40,717.48 235.70,704.72 236.00,714.35 236.30,707.09 236.60,717.98 236.90,706.66 237.20,717.76 237.50,708.28 237.80,715.25 238.10,707.91 238.40,715.58 238.70,708.52 239.00,720.20 239.30,705.26 239.60,715.54 239.90,706.01 240.20,715.82 240.50,707.26 240.80,717.92 241.10,708.98 241.40,718.85 241.70,707.33 242.00,715.72 242.30,708.35 242.60,717.36 242.90,710.69 243.20,717.50 243.50,708.28 243.80,719.98 244.10,707.62 244.40,718.95 244.70,708.30 245.00,718.82 245.30,709.28 245.60,716.48 245.90,709.56 246.20,718.71 246.50,709.40 246.80,718.30 247.10,709.94 247.40,717.62 247.70,704.40 248.00,717.89 248.30,707.20 248.60,716.30 248.90,706.47 249.20,717.93 249.50,708.78 249.80,714.29 250.10,705.19 250.40,717.95 250.70,708.52 251.00,716.16 251.30,707.90 251.60,716.98 251.90,708.66 252.20,718.13 252.50,707.68 252.80,715.98 253.10,708.30 253.40,720.76 253.70,709.22 254.00,717.81 254.30,708.25 254.60,718.44 254.90,709.09 255.20,716.99 255.50,709.64 255.80,717.62 256.10,709.86 256.40,719.94 256.70,710.82 257.00,723.13 257.30,709.86 257.60,721.35 257.90,710.79 258.20,721.87 258.50,712.98 258.80,719.03 259.10,711.83 259.40,721.78 259.70,711.47 260.00,721.97 260.30,709.24 260.60,722.99 260.90,714.41 261.20,720.38 261.50,713.26 261.80,722.42 262.10,713.58 262.40,721.22 262.70,713.01 263.00,722.44 263.30,711.82 263.60,721.98 263.90,712.81 264.20,720.64 264.50,714.25 264.80,723.62 265.10,714.60 265.40,722.95 265.70,713.71 266.00,721.78 266.30,712.24 266.60,722.19 266.90,713.63 267.20,721.78 267.50,714.43 267.80,724.65 268.10,712.93 268.40,722.31 268.70,716.35 269.00,722.45 269.30,715.60 269.60,722.64 269.90,716.43 270.20,724.83 270.50,715.02 270.80,722.43 271.10,712.48 271.40,721.68 271.70,714.06 272.00,723.65 272.30,712.78 272.60,721.74 272.90,714.22 273.20,724.75 273.50,711.85 273.80,725.25 274.10,713.92 274.40,724.53 274.70,713.71 275.00,724.25 275.30,716.24 275.60,722.91 275.90,716.82 276.20,723.57 276.50,715.98 276.80,727.02 277.10,717.31 277.40,727.37 277.70,716.96 278.00,725.35 278.30,715.82 278.60,723.69 278.90,714.93 279.20,724.95 279.50,715.81 279.80,726.58 280.10,717.30 280.40,723.67 280.70,716.08 281.00,725.78 281.30,715.83 281.60,724.38 281.90,717.41 282.20,724.99 282.50,715.26 282.80,724.34 283.10,715.25 283.40,724.39 283.70,716.72 284.00,722.78 284.30,716.56 284.60,725.97 284.90,716.35 285.20,726.07 285.50,712.91 285.80,723.46 286.10,716.48 286.40,725.48 286.70,717.03 287.00,725.68 287.30,715.57 287.60,724.27 287.90,716.55 288.20,724.68 288.50,718.25 288.80,723.67 289.10,716.09 289.40,725.92 289.70,717.78 290.00,727.20 290.30,716.56 290.60,724.19 290.90,715.52 291.20,725.48 291.50,718.54 291.80,725.20 292.10,718.57 292.40,726.67 292.70,717.05 293.00,723.68 293.30,716.64 293.60,724.03 293.90,716.79 294.20,725.60 294.50,718.50 294.80,725.48 295.10,714.49 295.40,725.45 295.70,716.77 296.00,724.14 296.30,718.73 296.60,725.01 296.90,715.48 297.20,723.99 297.50,715.53 297.80,723.56 298.10,718.48 298.40,725.36 298.70,718.15 299.00,724.91 299.30,717.24 299.60,726.33 299.90,717.85 300.20,724.16 300.50,712.93 300.80,721.05 301.10,711.00 301.40,717.30 301.70,709.92 302.00,716.70 302.30,703.67 302.60,702.60 302.90,687.30 303.20,688.32 303.20,678.15 303.50,694.92 303.80,689.46 304.10,700.53 304.40,695.50 304.70,701.07 305.00,694.95 305.30,702.24 305.60,695.41 305.90,704.59 306.20,676.02 306.50,665.48 306.80,644.69 307.10,629.67 307.40,611.04 307.70,595.48 308.00,577.81 308.30,561.75 308.30,561.26 308.60,574.08 308.90,584.55 309.20,596.26 309.50,605.88 309.80,617.23 310.10,624.38 310.40,636.48 310.70,641.28 311.00,652.32 311.30,655.24 311.60,668.83 311.90,668.95 312.20,681.20 312.50,680.00 312.80,691.48 313.10,689.69 313.40,700.13 313.70,693.99 314.00,704.23 314.30,700.08 314.60,709.71 314.90,701.43 315.20,710.26 315.50,703.62 315.80,711.69 316.10,703.35 316.40,712.27 316.70,705.22 317.00,715.99 317.30,706.72 317.60,714.25 317.90,707.47 318.20,715.09 318.50,707.09 318.80,713.87 319.10,707.60 319.40,718.09 319.70,708.07 320.00,716.10 320.30,709.70 320.60,717.53 320.90,711.37 321.20,716.24 321.50,710.11 321.80,718.33 322.10,711.55 322.40,717.78 322.70,709.00 323.00,719.88 323.30,712.27 323.60,718.26 323.90,713.62 324.20,719.52 324.50,712.35 324.80,718.89 325.10,712.96 325.40,720.44 325.70,712.24 326.00,719.15 326.30,712.69 326.60,718.62 326.90,714.40 327.20,720.08 327.50,713.52 327.80,719.05 328.10,712.88 328.40,721.64 328.70,713.25 329.00,722.71 329.30,712.97 329.60,721.54 329.90,714.79 330.20,720.87 330.50,715.35 330.80,721.24 331.10,714.09 331.40,720.67 331.70,712.25 332.00,721.02 332.30,715.33 332.60,720.67 332.90,714.64 333.20,723.27 333.50,714.87 333.80,725.19 334.10,716.09 334.40,723.08 334.70,713.96 335.00,721.94 335.30,716.96 335.60,723.72 335.90,716.31 336.20,724.08 336.50,716.25 336.80,722.21 337.10,718.09 337.40,723.13 337.70,718.24 338.00,724.76 338.30,716.14 338.60,723.69 338.90,718.53 339.20,724.02 339.50,717.37 339.80,723.73 340.10,715.73 340.40,723.08 340.70,717.77 341.00,724.67 341.30,716.88 341.60,724.35 341.90,717.45 342.20,723.27 342.50,718.31 342.80,725.48 343.10,718.73 343.40,723.61 343.70,719.49 344.00,725.90 344.30,719.75 344.60,724.81 344.90,719.60 345.20,724.89 345.50,718.34 345.80,724.59 346.10,719.49 346.40,726.01 346.70,719.52 347.00,725.53 347.30,720.04 347.60,725.44 347.90,718.45 348.20,726.17 348.50,718.58 348.80,725.08 349.10,720.33 349.40,727.26 349.70,719.84 350.00,727.58 350.30,719.56 350.60,725.86 350.90,721.01 351.20,727.15 351.50,720.46 351.80,726.45 352.10,720.32 352.40,725.07 352.70,719.59 353.00,726.36 353.30,720.00 353.60,726.76 353.90,720.51 354.20,725.98 354.50,720.44 354.80,728.70 355.10,719.65 355.40,726.44 355.70,720.29 356.00,727.53 356.30,719.96 356.60,729.11 356.90,719.85 357.20,726.88 357.50,720.25 357.80,726.15 358.10,721.11 358.40,727.73 358.70,720.66 359.00,727.09 359.30,721.56 359.60,727.64 359.90,721.74 360.20,727.10 360.50,720.18 360.80,726.47 361.10,720.97 361.40,728.06 361.70,721.32 362.00,727.11 362.30,722.06 362.60,729.08 362.90,721.57 363.20,726.23 363.50,720.37 363.80,726.58 364.10,722.55 364.40,729.07 364.70,719.59 365.00,726.70 365.30,722.28 365.60,726.52 365.90,721.79 366.20,726.84 366.50,719.70 366.80,727.85 367.10,720.51 367.40,727.48 367.70,722.95 368.00,727.22 368.30,722.87 368.60,727.02 368.90,720.81 369.20,729.12 369.50,722.37 369.80,726.92 370.10,721.18 370.40,726.88 370.70,723.15 371.00,726.74 371.30,722.51 371.60,726.70 371.90,721.90 372.20,727.89 372.50,721.18 372.80,727.59 373.10,721.64 373.40,728.22 373.70,721.76 374.00,726.70 374.30,722.12 374.60,727.94 374.90,722.31 375.20,728.15 375.50,722.16 375.80,727.76 376.10,722.80 376.40,727.64 376.70,723.15 377.00,727.56 377.30,723.25 377.60,727.37 377.90,722.86 378.20,726.95 378.50,722.66 378.80,727.52 379.10,722.07 379.40,726.44 379.70,722.98 380.00,728.39 380.30,722.52 380.60,726.60 380.90,721.92 381.20,727.30 381.50,721.33 381.80,726.14 382.10,721.85 382.40,727.35 382.70,721.84 383.00,727.19 383.30,720.48 383.60,727.14 383.90,721.65 384.20,725.70 384.50,722.34 384.80,726.51 385.10,721.14 385.40,727.24 385.70,721.44 386.00,726.85 386.30,720.54 386.60,726.68 386.90,721.27 387.20,726.74 387.50,721.26 387.80,726.30 388.10,719.49 388.40,726.01 388.70,720.53 389.00,727.75 389.30,721.01 389.60,726.69 389.90,721.00 390.20,727.49 390.50,721.94 390.80,726.85 391.10,721.19 391.40,726.91 391.70,722.93 392.00,727.61 392.30,721.87 392.60,727.62 392.90,721.89 393.20,727.13 393.50,723.15 393.80,726.89 394.10,723.43 394.40,728.73 394.70,723.75 395.00,728.29 395.30,724.21 395.60,727.75 395.90,723.06 396.20,728.31 396.50,723.79 396.80,729.28 397.10,724.16 397.40,729.78 397.70,724.89 398.00,730.69 398.30,724.05 398.60,729.09 398.90,724.11 399.20,729.96 399.50,724.08 399.80,729.16 400.10,725.42 400.40,729.88 400.70,724.78 401.00,731.07 401.30,726.14 401.60,730.26 401.90,724.98 402.20,731.39 402.50,726.47 402.80,730.60 403.10,727.54 403.40,730.59 403.70,727.37 404.00,731.45 404.30,727.68 404.60,732.63 404.90,727.78 405.20,732.69 405.50,726.38 405.80,732.15 406.10,725.30 406.40,731.07 406.70,725.30 407.00,730.54 407.30,726.31 407.60,730.81 407.90,724.33 408.20,731.33 408.50,725.17 408.80,731.57 409.10,725.36 409.40,731.07 409.70,724.03 410.00,731.80 410.30,726.05 410.60,730.97 410.90,726.38 411.20,729.70 411.50,725.86 411.80,729.61 412.10,725.34 412.40,730.91 412.70,724.16 413.00,730.31 413.30,725.47 413.60,729.91 413.90,724.77 414.20,729.11 414.50,725.12 414.80,728.19 415.10,722.45 415.40,728.78 415.70,723.72 416.00,728.15 416.30,722.20 416.60,728.57 416.90,723.70 417.20,728.10 417.50,723.62 417.80,728.32 418.10,723.73 418.40,729.05 418.70,722.68 419.00,728.22 419.30,722.96 419.60,727.73 419.90,724.17 420.20,727.50 420.50,724.24 420.80,728.29 421.10,723.55 421.40,728.87 421.70,724.10 422.00,728.48 422.30,723.39 422.60,729.07 422.90,723.38 423.20,729.08 423.50,723.68 423.80,728.20 424.10,724.37 424.40,729.99 424.70,724.03 425.00,728.32 425.30,725.04 425.60,729.10 425.90,723.16 426.20,731.06 426.50,724.67 426.80,728.89 427.10,724.49 427.40,730.15 427.70,724.28 428.00,729.55 428.30,725.63 428.60,729.95 428.90,725.73 429.20,730.10 429.50,725.35 429.80,730.24 430.10,724.91 430.40,729.39 430.70,725.16 431.00,730.09 431.30,725.04 431.60,729.88 431.90,725.90 432.20,730.19 432.50,724.81 432.80,730.19 433.10,725.45 433.40,729.82 433.70,726.01 434.00,729.73 434.30,725.52 434.60,730.44 434.90,726.31 435.20,731.03 435.50,726.21 435.80,730.58 436.10,725.46 436.40,731.03 436.70,726.18 437.00,731.41 437.30,726.06 437.60,731.52 437.90,727.15 438.20,730.16 438.50,726.31 438.80,731.95 439.10,726.12 439.40,730.67 439.70,725.77 440.00,732.04 440.30,725.40 440.60,731.71 440.90,725.60 441.20,731.49 441.50,725.62 441.80,730.71 442.10,727.66 442.40,731.05 442.70,726.82 443.00,731.42 443.30,727.17 443.60,731.37 443.90,726.68 444.20,731.45 444.50,726.75 444.80,732.04 445.10,726.95 445.40,732.55 445.70,725.48 446.00,730.62 446.30,726.48 446.60,730.93 446.90,726.06 447.20,730.83 447.50,724.93 447.80,730.81 448.10,727.14 448.40,731.76 448.70,726.76 449.00,730.88 449.30,727.09 449.60,731.63 449.90,726.51 450.20,730.68 450.50,726.06 450.80,732.09 451.10,725.62 451.40,731.33 451.70,727.48 452.00,730.83 452.30,726.97 452.60,731.01 452.90,727.77 453.20,730.68 453.50,727.51 453.80,731.06 454.10,725.16 454.40,731.89 454.70,726.17 455.00,732.40 455.30,727.54 455.60,731.28 455.90,725.70 456.20,730.65 456.50,727.27 456.80,731.71 457.10,727.18 457.40,733.48 457.70,726.78 458.00,732.53 458.30,727.22 458.60,732.43 458.90,726.97 459.20,731.91 459.50,726.33 459.80,733.61 460.10,727.20 460.40,731.32 460.70,726.13 461.00,730.88 461.30,727.92 461.60,732.11 461.90,727.86 462.20,730.95 462.50,725.98 462.80,733.09 463.10,727.69 463.40,731.45 463.70,726.49 464.00,732.25 464.30,728.07 464.60,731.84 464.90,727.80 465.20,731.47" fill="none" stroke="#18149a" stroke-width="1.15" stroke-linejoin="round"/>
<text x="135.2" y="555.5" style="font-family:'Liberation Sans',sans-serif;font-weight:bold;font-size:17.2px" fill="#000" text-anchor="start" stroke="#000" stroke-width="0.25">D</text>
<text x="161.8" y="578.0" style="font-family:'Liberation Serif',serif;font-weight:bold;font-size:15.5px" fill="#000" text-anchor="start" >[A3C1C2]</text>
<text x="229.0" y="573.4" style="font-family:'Liberation Serif',serif;font-weight:bold;font-size:10.4px" fill="#000" text-anchor="start" >2+</text>
<text x="251.0" y="618.8" style="font-family:'Liberation Serif',serif;font-weight:bold;font-size:15px" fill="#000" text-anchor="start" >A2</text>
<text x="337.8" y="577.4" style="font-family:'Liberation Serif',serif;font-weight:bold;font-size:15.2px" fill="#000" text-anchor="start" >A3C1C2</text>
<text x="329.0" y="667.7" style="font-family:'Liberation Serif',serif;font-weight:bold;font-size:15.5px" fill="#000" text-anchor="start" >A1-PEG60</text>
<line x1="188.75" y1="593.75" x2="198.86" y2="616.56" stroke="#000" stroke-width="1.7"/>
<polygon points="201.5,622.5 195.26,617.06 201.66,614.23" fill="#000"/>
<line x1="242" y1="617.5" x2="229.97" y2="625.24" stroke="#000" stroke-width="1.7"/>
<polygon points="224.5,628.75 228.92,621.75 232.70,627.64" fill="#000"/>
<line x1="336.25" y1="582" x2="324.25" y2="589.54" stroke="#000" stroke-width="1.7"/>
<polygon points="318.75,593 323.24,586.05 326.96,591.97" fill="#000"/>
<line x1="363.3" y1="675.5" x2="358.62" y2="693.70" stroke="#000" stroke-width="1.7"/>
<polygon points="357,700 355.48,691.86 362.26,693.61" fill="#000"/>
<text x="145.2" y="618.5" style="font-family:'Liberation Sans',sans-serif;font-weight:bold;font-size:3.3px" fill="#8a2c34">99391</text>
<text x="146.2" y="624.5" style="font-family:'Liberation Sans',sans-serif;font-weight:bold;font-size:3.3px" fill="#8a2c34">33688</text>
<text x="147.2" y="634.5" style="font-family:'Liberation Sans',sans-serif;font-weight:bold;font-size:3.3px" fill="#8a2c34">23507</text>
<text x="147.2" y="641.5" style="font-family:'Liberation Sans',sans-serif;font-weight:bold;font-size:3.3px" fill="#8a2c34">86231</text>
<text x="148.2" y="646.5" style="font-family:'Liberation Sans',sans-serif;font-weight:bold;font-size:3.3px" fill="#8a2c34">84868</text>
<text x="149.2" y="652.5" style="font-family:'Liberation Sans',sans-serif;font-weight:bold;font-size:3.3px" fill="#8a2c34">93743</text>
<text x="151.2" y="657.5" style="font-family:'Liberation Sans',sans-serif;font-weight:bold;font-size:3.3px" fill="#8a2c34">34624</text>
<text x="153.2" y="663.5" style="font-family:'Liberation Sans',sans-serif;font-weight:bold;font-size:3.3px" fill="#8a2c34">58810</text>
<text x="157.2" y="669.5" style="font-family:'Liberation Sans',sans-serif;font-weight:bold;font-size:3.3px" fill="#8a2c34">22770</text>
<text x="161.2" y="646.5" style="font-family:'Liberation Sans',sans-serif;font-weight:bold;font-size:3.3px" fill="#8a2c34">81793</text>
<text x="164.2" y="668.5" style="font-family:'Liberation Sans',sans-serif;font-weight:bold;font-size:3.3px" fill="#8a2c34">18229</text>
<text x="166.2" y="674.5" style="font-family:'Liberation Sans',sans-serif;font-weight:bold;font-size:3.3px" fill="#8a2c34">83972</text>
<text x="167.2" y="678.5" style="font-family:'Liberation Sans',sans-serif;font-weight:bold;font-size:3.3px" fill="#8a2c34">17812</text>
<text x="173.2" y="683.5" style="font-family:'Liberation Sans',sans-serif;font-weight:bold;font-size:3.3px" fill="#8a2c34">91134</text>
<text x="175.2" y="687.5" style="font-family:'Liberation Sans',sans-serif;font-weight:bold;font-size:3.3px" fill="#8a2c34">36995</text>
<text x="181.2" y="692.5" style="font-family:'Liberation Sans',sans-serif;font-weight:bold;font-size:3.3px" fill="#8a2c34">75066</text>
<text x="183.2" y="696.5" style="font-family:'Liberation Sans',sans-serif;font-weight:bold;font-size:3.3px" fill="#8a2c34">99181</text>
<text x="189.2" y="700.5" style="font-family:'Liberation Sans',sans-serif;font-weight:bold;font-size:3.3px" fill="#8a2c34">79693</text>
<text x="194.2" y="703.5" style="font-family:'Liberation Sans',sans-serif;font-weight:bold;font-size:3.3px" fill="#8a2c34">66045</text>
<text x="198.2" y="706.5" style="font-family:'Liberation Sans',sans-serif;font-weight:bold;font-size:3.3px" fill="#8a2c34">51175</text>
<text x="199.2" y="711.5" style="font-family:'Liberation Sans',sans-serif;font-weight:bold;font-size:3.3px" fill="#8a2c34">71027</text>
<text x="203.2" y="704.5" style="font-family:'Liberation Sans',sans-serif;font-weight:bold;font-size:3.3px" fill="#8a2c34">86750</text>
<text x="206.2" y="631.5" style="font-family:'Liberation Sans',sans-serif;font-weight:bold;font-size:3.3px" fill="#8a2c34">69399</text>
<text x="207.2" y="667.5" style="font-family:'Liberation Sans',sans-serif;font-weight:bold;font-size:3.3px" fill="#8a2c34">57393</text>
<text x="207.2" y="673.5" style="font-family:'Liberation Sans',sans-serif;font-weight:bold;font-size:3.3px" fill="#8a2c34">49291</text>
<text x="208.2" y="684.5" style="font-family:'Liberation Sans',sans-serif;font-weight:bold;font-size:3.3px" fill="#8a2c34">42561</text>
<text x="216.2" y="606.5" style="font-family:'Liberation Sans',sans-serif;font-weight:bold;font-size:3.3px" fill="#8a2c34">33562</text>
<text x="216.2" y="621.5" style="font-family:'Liberation Sans',sans-serif;font-weight:bold;font-size:3.3px" fill="#8a2c34">41994</text>
<text x="217.2" y="652.5" style="font-family:'Liberation Sans',sans-serif;font-weight:bold;font-size:3.3px" fill="#8a2c34">20728</text>
<text x="218.2" y="674.5" style="font-family:'Liberation Sans',sans-serif;font-weight:bold;font-size:3.3px" fill="#8a2c34">85290</text>
<text x="221.2" y="681.5" style="font-family:'Liberation Sans',sans-serif;font-weight:bold;font-size:3.3px" fill="#8a2c34">49354</text>
<text x="222.2" y="696.5" style="font-family:'Liberation Sans',sans-serif;font-weight:bold;font-size:3.3px" fill="#8a2c34">78838</text>
<text x="225.2" y="700.5" style="font-family:'Liberation Sans',sans-serif;font-weight:bold;font-size:3.3px" fill="#8a2c34">74895</text>
<text x="232.2" y="705.5" style="font-family:'Liberation Sans',sans-serif;font-weight:bold;font-size:3.3px" fill="#8a2c34">55020</text>
<text x="249.2" y="706.5" style="font-family:'Liberation Sans',sans-serif;font-weight:bold;font-size:3.3px" fill="#8a2c34">68829</text>
<text x="263.2" y="710.5" style="font-family:'Liberation Sans',sans-serif;font-weight:bold;font-size:3.3px" fill="#8a2c34">47740</text>
<text x="254.2" y="716.0" style="font-family:'Liberation Sans',sans-serif;font-weight:bold;font-size:3.3px" fill="#8a2c34">89817</text>
<text x="269.2" y="717.0" style="font-family:'Liberation Sans',sans-serif;font-weight:bold;font-size:3.3px" fill="#8a2c34">19594</text>
<text x="282.2" y="717.0" style="font-family:'Liberation Sans',sans-serif;font-weight:bold;font-size:3.3px" fill="#8a2c34">25475</text>
<text x="290.2" y="717.0" style="font-family:'Liberation Sans',sans-serif;font-weight:bold;font-size:3.3px" fill="#8a2c34">77100</text>
<text x="299.2" y="722.0" style="font-family:'Liberation Sans',sans-serif;font-weight:bold;font-size:3.3px" fill="#8a2c34">64804</text>
<text x="309.2" y="562.5" style="font-family:'Liberation Sans',sans-serif;font-weight:bold;font-size:3.3px" fill="#8a2c34">31621</text>
<text x="309.2" y="573.5" style="font-family:'Liberation Sans',sans-serif;font-weight:bold;font-size:3.3px" fill="#8a2c34">54833</text>
<text x="312.2" y="625.5" style="font-family:'Liberation Sans',sans-serif;font-weight:bold;font-size:3.3px" fill="#8a2c34">29920</text>
<text x="312.2" y="640.0" style="font-family:'Liberation Sans',sans-serif;font-weight:bold;font-size:3.3px" fill="#8a2c34">74089</text>
<text x="312.2" y="657.5" style="font-family:'Liberation Sans',sans-serif;font-weight:bold;font-size:3.3px" fill="#8a2c34">65272</text>
<text x="312.2" y="665.0" style="font-family:'Liberation Sans',sans-serif;font-weight:bold;font-size:3.3px" fill="#8a2c34">15138</text>
<text x="312.2" y="672.5" style="font-family:'Liberation Sans',sans-serif;font-weight:bold;font-size:3.3px" fill="#8a2c34">97584</text>
<text x="304.2" y="681.5" style="font-family:'Liberation Sans',sans-serif;font-weight:bold;font-size:3.3px" fill="#8a2c34">20173</text>
<text x="304.2" y="685.5" style="font-family:'Liberation Sans',sans-serif;font-weight:bold;font-size:3.3px" fill="#8a2c34">83148</text>
<text x="315.2" y="696.5" style="font-family:'Liberation Sans',sans-serif;font-weight:bold;font-size:3.3px" fill="#8a2c34">85107</text>
<text x="315.2" y="702.0" style="font-family:'Liberation Sans',sans-serif;font-weight:bold;font-size:3.3px" fill="#8a2c34">51123</text>
<text x="315.2" y="707.5" style="font-family:'Liberation Sans',sans-serif;font-weight:bold;font-size:3.3px" fill="#8a2c34">54580</text>
<text x="305.2" y="695.5" style="font-family:'Liberation Sans',sans-serif;font-weight:bold;font-size:3.3px" fill="#8a2c34">55898</text>
<text x="305.2" y="706.5" style="font-family:'Liberation Sans',sans-serif;font-weight:bold;font-size:3.3px" fill="#8a2c34">87905</text>
<text x="304.2" y="714.5" style="font-family:'Liberation Sans',sans-serif;font-weight:bold;font-size:3.3px" fill="#8a2c34">75100</text>
<text x="319.2" y="690.5" style="font-family:'Liberation Sans',sans-serif;font-weight:bold;font-size:3.3px" fill="#8a2c34">86008</text>
<text x="319.2" y="695.5" style="font-family:'Liberation Sans',sans-serif;font-weight:bold;font-size:3.3px" fill="#8a2c34">69795</text>
<text x="320.2" y="701.5" style="font-family:'Liberation Sans',sans-serif;font-weight:bold;font-size:3.3px" fill="#8a2c34">19012</text>
<text x="320.2" y="707.5" style="font-family:'Liberation Sans',sans-serif;font-weight:bold;font-size:3.3px" fill="#8a2c34">22267</text>
<text x="330.2" y="711.5" style="font-family:'Liberation Sans',sans-serif;font-weight:bold;font-size:3.3px" fill="#8a2c34">45381</text>
<text x="337.2" y="711.5" style="font-family:'Liberation Sans',sans-serif;font-weight:bold;font-size:3.3px" fill="#8a2c34">72141</text>
<text x="332.2" y="716.5" style="font-family:'Liberation Sans',sans-serif;font-weight:bold;font-size:3.3px" fill="#8a2c34">97051</text>
<text x="344.2" y="719.5" style="font-family:'Liberation Sans',sans-serif;font-weight:bold;font-size:3.3px" fill="#8a2c34">18519</text>
<text x="354.2" y="718.5" style="font-family:'Liberation Sans',sans-serif;font-weight:bold;font-size:3.3px" fill="#8a2c34">17952</text>
<text x="363.2" y="721.5" style="font-family:'Liberation Sans',sans-serif;font-weight:bold;font-size:3.3px" fill="#8a2c34">50580</text>
<text x="385.2" y="721.5" style="font-family:'Liberation Sans',sans-serif;font-weight:bold;font-size:3.3px" fill="#8a2c34">94820</text>
<text x="419.2" y="724.0" style="font-family:'Liberation Sans',sans-serif;font-weight:bold;font-size:3.3px" fill="#8a2c34">85752</text>
</svg>
</body></html>
